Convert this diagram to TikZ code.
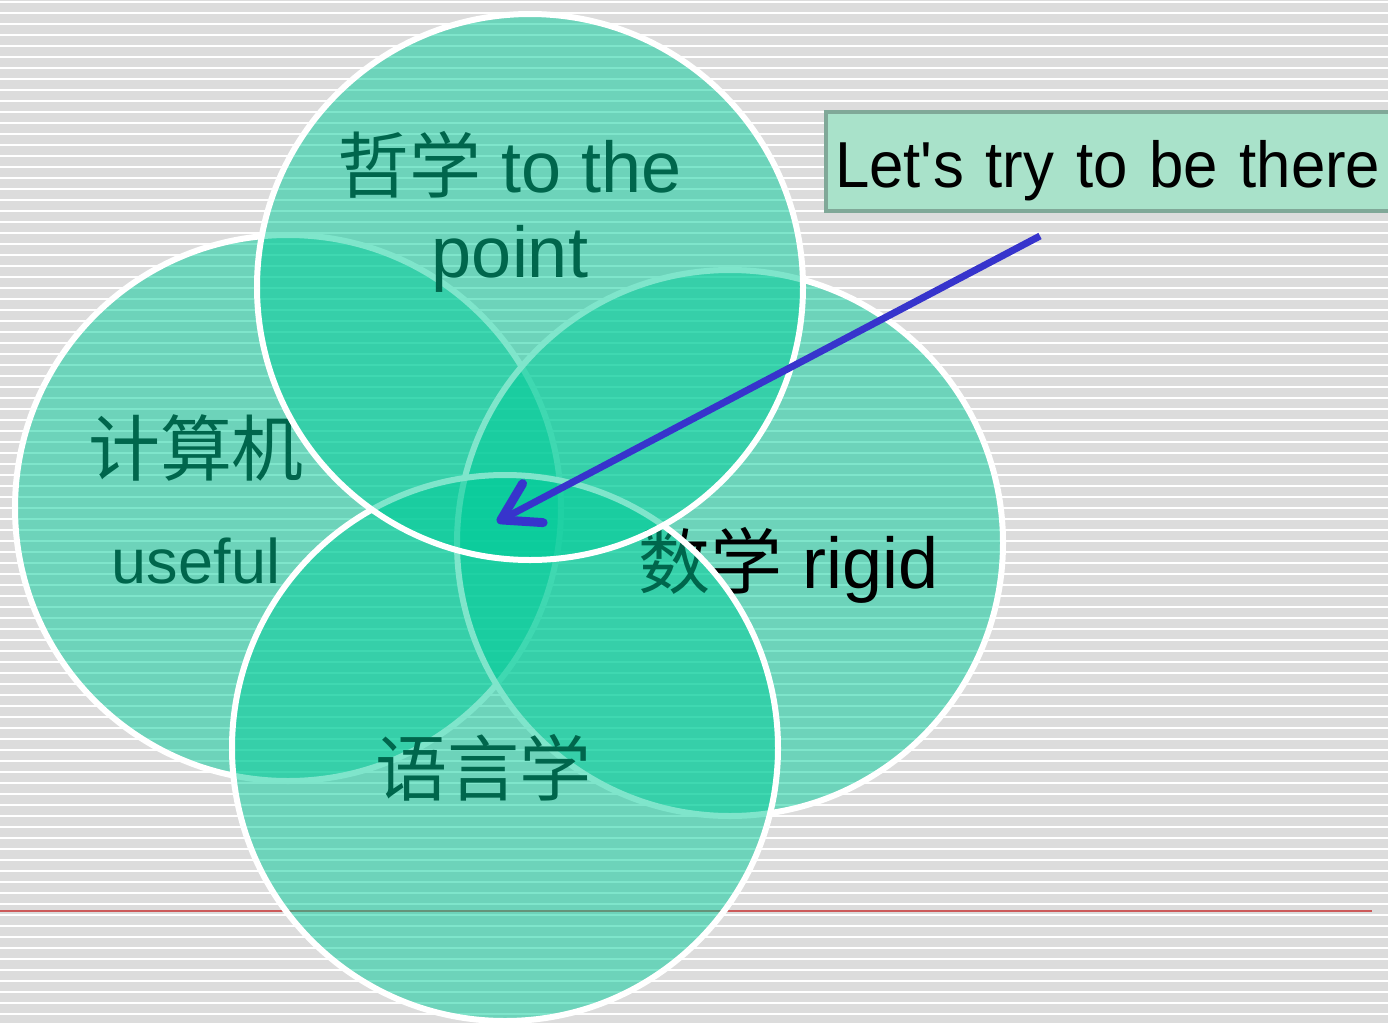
\documentclass[tikz,border=0pt]{standalone}
\usepackage{fontspec}
\setmainfont{Liberation Sans}
\newfontfamily\cjk{Noto Sans CJK SC}
\newfontfamily\notefont[FakeStretch=0.95]{Liberation Sans}
\usetikzlibrary{arrows.meta}
\definecolor{bubblegreen}{HTML}{00CC99}
\definecolor{stripegray}{HTML}{DCDCDC}
\definecolor{notegreen}{HTML}{A9E2CA}
\definecolor{noteedge}{HTML}{80A898}
\definecolor{arrowblue}{HTML}{3734CC}
\definecolor{rulered}{HTML}{CC5A5A}
\begin{document}
\begin{tikzpicture}[x=0.5pt, y=-0.5pt,
		bubble/.style={circle, draw=white, line width=3pt, fill=bubblegreen, fill opacity=0.5, draw opacity=1, minimum size=273pt, inner sep=0},
		word/.style={inner sep=0, anchor=base, font=\fontsize{36}{42.5}\selectfont}]
			\useasboundingbox (0,0) rectangle (1388,1023);
			\fill[stripegray] (0,0) rectangle (1388,1023);
			\foreach \k in {0,...,92}
				\draw[white, line width=1.1pt] (0,2+11*\k) -- (1388,2+11*\k);
			\draw[rulered, line width=1pt] (0,911) -- (1372,911);
			\node (tcomp) [word] at (196,475) {\cjk 计算机};
			\node (tuse) [word, font=\fontsize{31.5}{36}\selectfont] at (196,583) {useful};
			\node (cleft) [bubble] at (288,508) {};
			\node (cright) [bubble] at (730,543) {};
			\node (tmath) [word] at (789,588) {{\cjk 数学} rigid};
			\node (tling) [word] at (483,795) {\cjk 语言学};
			\node (cbottom) [bubble] at (505,748) {};
			\node (tphil) [word, align=center] at (510,277) {{\cjk 哲学} to the\\point};
			\node (ctop) [bubble] at (530,287) {};
			\node (note) [anchor=west, draw=noteedge, line width=2pt, fill=notegreen, minimum height=49.5pt, text width=320pt, align=left, inner xsep=4.5pt, text height=26pt, text depth=0.5pt, font=\notefont\fontsize{32.5}{38}\selectfont] at (824,161.5) {Let\textquotesingle s try to be there};
			\coordinate (tail) at (1040,236);
			\coordinate (aim) at (497,522);
			\draw[arrowblue, line width=3.5pt, -{Straight Barb[round, length=18pt, width=22pt, line width=4.5pt]}] (tail) -- (aim);
		\end{tikzpicture}
\end{document}
